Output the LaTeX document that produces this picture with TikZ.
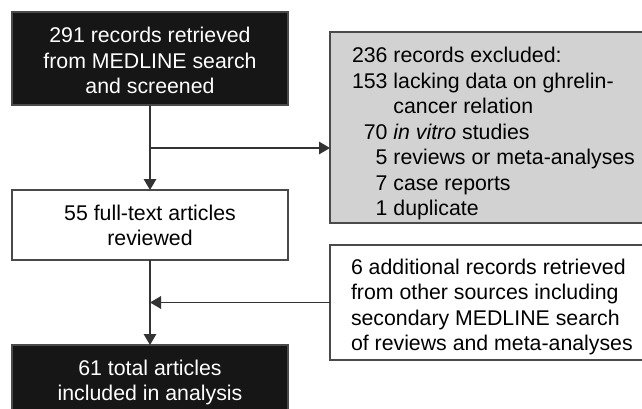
\documentclass[tikz,border=0pt]{standalone}
\usepackage{fontspec}
\setmainfont{Liberation Sans}
\usetikzlibrary{arrows.meta}
\definecolor{boxblack}{HTML}{161616}
\definecolor{boxgray}{HTML}{D2D2D2}
\definecolor{edgegray}{HTML}{4A4A4A}
\definecolor{wiregray}{HTML}{333333}
\begin{document}
\begin{tikzpicture}[x=1pt,y=-1pt,
  every node/.style={font=\fontsize{21.3}{25.5}\selectfont, inner sep=0pt, outer sep=0pt},
  darkbox/.style={draw=edgegray, fill=boxblack, line width=1.2pt, anchor=north west},
  whitebox/.style={draw=edgegray, fill=white, line width=1.2pt, anchor=north west},
  greybox/.style={draw=edgegray, fill=boxgray, line width=1.2pt, anchor=north west},
  wire/.style={draw=wiregray, line width=1.5pt},
  arr/.style={wire, -{Triangle[length=11pt,width=12.5pt]}}]
\useasboundingbox (0,0) rectangle (642,409);
% boxes
\node[darkbox, minimum width=276pt, minimum height=93pt] (b1) at (12,12) {};
\node[whitebox, minimum width=276pt, minimum height=70pt] (b2) at (12,190) {};
\node[darkbox, minimum width=276pt, minimum height=72pt] (b3) at (12,345) {};
\node[greybox, minimum width=318pt, minimum height=191pt] (ex) at (330,32) {};
\node[whitebox, minimum width=318pt, minimum height=115pt] (ad) at (330,245) {};
% texts
\node[anchor=base, text=white] (b1t) at (150,42.7) {\begin{tabular}[t]{@{}c@{}}291 records retrieved\\from MEDLINE search\\and screened\end{tabular}};
\node[anchor=base] (b2t) at (150,220) {\begin{tabular}[t]{@{}c@{}}55 full-text articles\\reviewed\end{tabular}};
\node[anchor=base, text=white] (b3t) at (150,375) {\begin{tabular}[t]{@{}c@{}}61 total articles\\included in analysis\end{tabular}};
\node[anchor=base west] (ext) at (352,63) {\begin{tabular}[t]{@{}r@{\hspace{0.278em}}l@{}}\multicolumn{2}{@{}l@{}}{236 records excluded:}\\153&lacking data on ghrelin-\\&cancer relation\\70&\textit{in vitro} studies\\5&reviews or meta-analyses\\7&case reports\\1&duplicate\end{tabular}};
\node[anchor=base west] (adt) at (351,274.3) {\begin{tabular}[t]{@{}l@{}}6 additional records retrieved\\from other sources including\\secondary MEDLINE search\\of reviews and meta-analyses\end{tabular}};
% connectors
\path (b1.south) ++(0,43) coordinate (j1);
\draw[arr] (b1.south) -- (b2.north);
\draw[arr] (j1) -- (j1 -| ex.west);
\draw[arr] (b2.south) -- (b3.north);
\draw[arr] (ad.west) -- (ad.west -| b2.south);
\end{tikzpicture}
\end{document}
